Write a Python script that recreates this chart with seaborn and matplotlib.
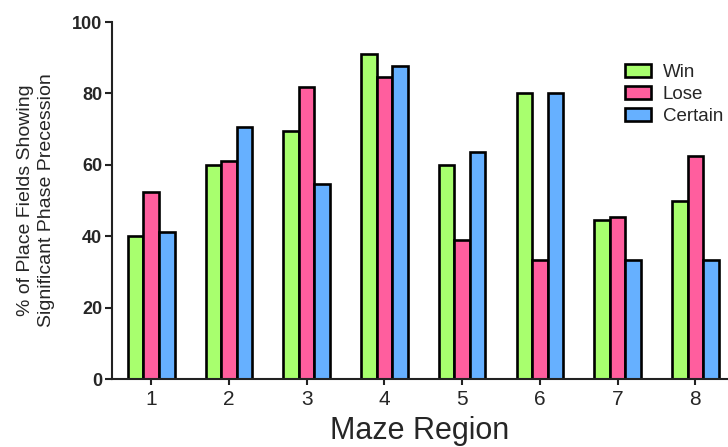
import matplotlib
matplotlib.use("Agg")
import matplotlib.pyplot as plt
import seaborn as sns
import pandas as pd

regions = ["1", "2", "3", "4", "5", "6", "7", "8"]
win = [40.0, 60.0, 69.4, 91.0, 60.0, 80.0, 44.4, 50.0]
lose = [52.3, 61.0, 81.8, 84.6, 38.8, 33.3, 45.5, 62.5]
certain = [41.1, 70.6, 54.5, 87.8, 63.6, 80.0, 33.3, 33.3]
series_names = ["Win", "Lose", "Certain"]
colors = ["#A8FF6E", "#FF5E9E", "#66B0FF"]

rows = []
for name, vals in zip(series_names, [win, lose, certain]):
    for r, v in zip(regions, vals):
        rows.append({"Region": r, "Condition": name, "Value": v})
df = pd.DataFrame(rows)

sns.set_theme(style="ticks")
plt.rcParams["font.family"] = ["Liberation Sans", "DejaVu Sans"]

fig = plt.figure(figsize=(7.28, 4.47), dpi=100)
ax = fig.add_axes([112 / 728, 1 - 379 / 447, 1 - 112 / 728, (379 - 22) / 447])

sns.barplot(data=df, x="Region", y="Value", hue="Condition", order=regions,
            hue_order=series_names, palette=colors, width=0.6, gap=0,
            edgecolor="black", linewidth=1.9, saturation=1, ax=ax, errorbar=None)

ax.set_ylim(0, 100)
ax.set_xlim(-0.505, 7.42)
ax.set_yticks([0, 20, 40, 60, 80, 100])
for lab in ax.get_yticklabels():
    lab.set_fontweight("bold")
ax.tick_params(axis="y", labelsize=13, length=5, width=1.5, color="#222222", pad=2)
ax.tick_params(axis="x", labelsize=15, length=4, width=1.5, color="#222222", pad=4)
for s in ["top", "right"]:
    ax.spines[s].set_visible(False)
for s in ["left", "bottom"]:
    ax.spines[s].set_linewidth(1.5)
    ax.spines[s].set_color("#222222")

ax.set_xlabel("Maze Region", fontsize=22, labelpad=5)
ax.set_ylabel("% of Place Fields Showing\nSignificant Phase Precession", fontsize=14,
              labelpad=12, linespacing=1.35)

handles, labels = ax.get_legend_handles_labels()
ax.legend(handles, labels, loc="upper left", bbox_to_anchor=(612 / 728, 1 - 51 / 447),
          bbox_transform=fig.transFigure, frameon=False, fontsize=13.5,
          handlelength=1.4, handleheight=0.7, labelspacing=0.25, handletextpad=0.6,
          borderpad=0.2)

fig.savefig("out.png", dpi=100)
